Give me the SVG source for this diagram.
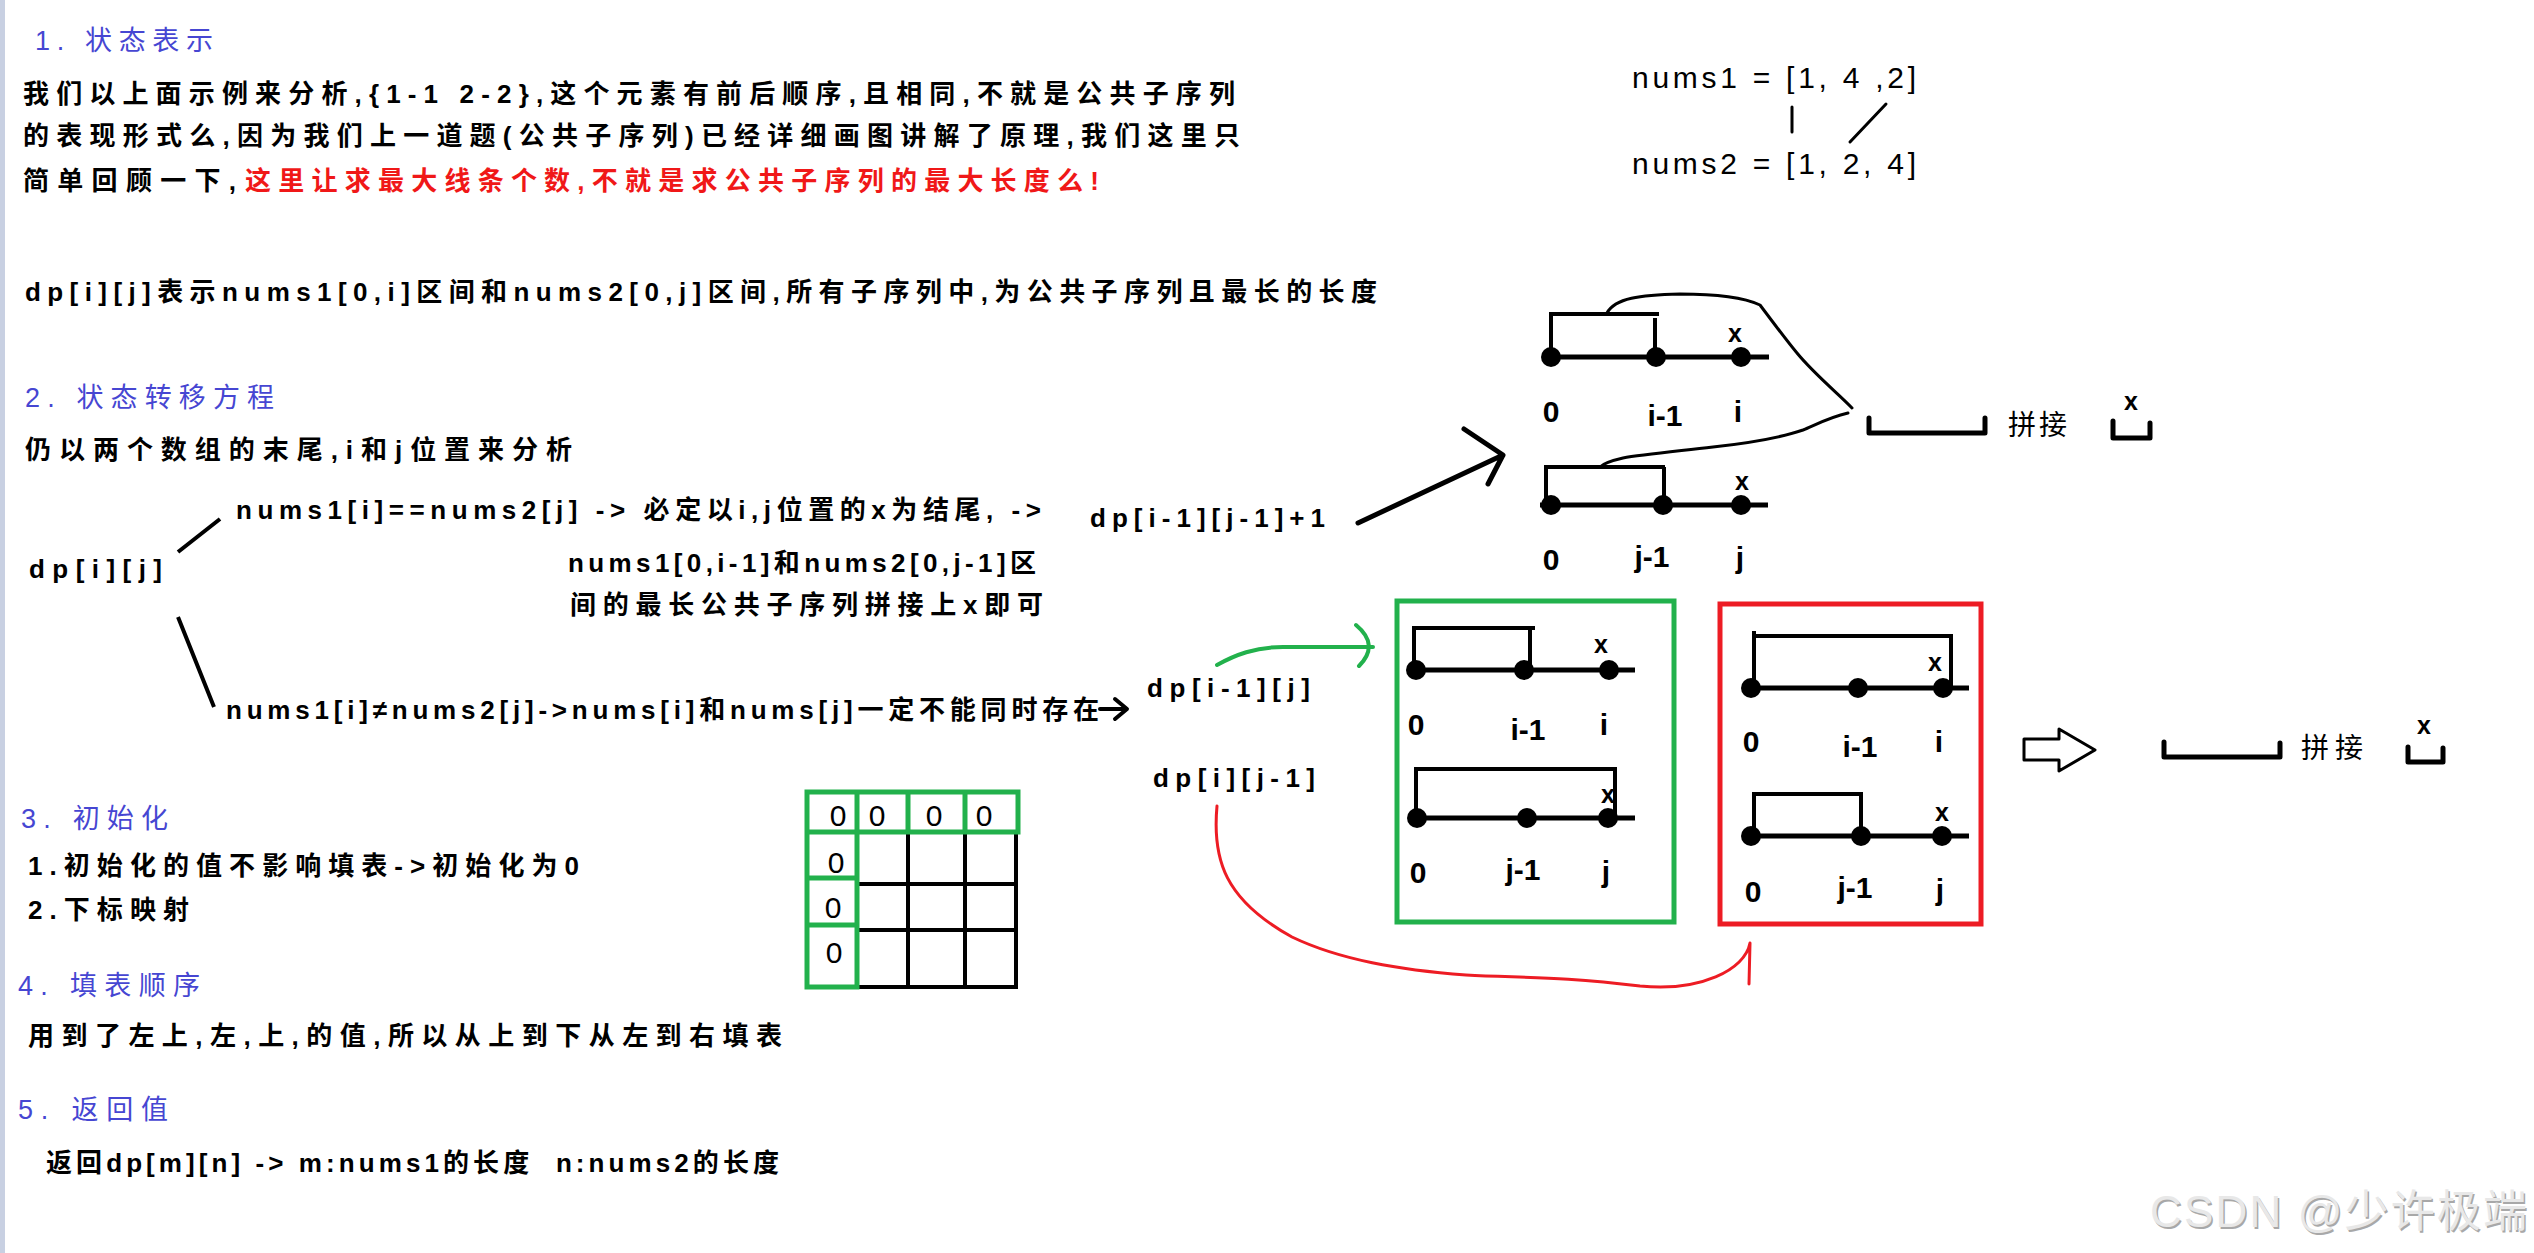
<svg xmlns="http://www.w3.org/2000/svg" width="2534" height="1253" viewBox="0 0 2534 1253">
<style>
.t{font-family:"Liberation Sans","Noto Sans CJK SC",sans-serif;font-size:26px;fill:#000;font-weight:bold}
.h{font-size:27px;fill:#4646d2;font-weight:normal}
.r{fill:#f01818}
.lbl{font-size:30px;text-anchor:middle}
.xm{font-size:25px;text-anchor:middle}
.z{font-size:30px;text-anchor:middle;font-weight:normal}
.nl{stroke:#000;stroke-width:5;fill:none}
.br{stroke:#000;stroke-width:4;fill:none}
.thin{stroke:#000;stroke-width:3;fill:none;stroke-linecap:round;stroke-linejoin:round}
.conn{stroke:#000;stroke-width:5;fill:none;stroke-linecap:round;stroke-linejoin:round}
.gb{stroke:#22b14c;stroke-width:5;fill:none}
.rb{stroke:#ed1c24;stroke-width:5;fill:none}
.blk{stroke:#000;stroke-width:4;fill:none}
.wm{font-family:"Liberation Sans","Noto Sans CJK SC",sans-serif;font-size:44px}
</style>
<rect x="0" y="0" width="2534" height="1253" fill="#fff"/>
<rect x="0" y="0" width="5" height="1253" fill="#c8d0e2"/>

<g id="section1">
<text class="t h" x="35" y="50" textLength="178" lengthAdjust="spacing">1. 状态表示</text>
<text class="t" x="23" y="103" textLength="1212" lengthAdjust="spacing">我们以上面示例来分析,{1-1 2-2},这个元素有前后顺序,且相同,不就是公共子序列</text>
<text class="t" x="23" y="145" textLength="1217" lengthAdjust="spacing">的表现形式么,因为我们上一道题(公共子序列)已经详细画图讲解了原理,我们这里只</text>
<text class="t" x="23" y="190" textLength="213" lengthAdjust="spacing">简单回顾一下,</text>
<text class="t r" x="245" y="190" textLength="854" lengthAdjust="spacing">这里让求最大线条个数,不就是求公共子序列的最大长度么!</text>
<text class="t" x="25" y="301" textLength="1352" lengthAdjust="spacing">dp[i][j]表示nums1[0,i]区间和nums2[0,j]区间,所有子序列中,为公共子序列且最长的长度</text>
</g>

<g id="section2">
<text class="t h" x="25" y="407" textLength="249" lengthAdjust="spacing">2. 状态转移方程</text>
<text class="t" x="25" y="459" textLength="547" lengthAdjust="spacing">仍以两个数组的末尾,i和j位置来分析</text>
</g>

<g id="node-dpij"><text class="t" x="29" y="578" textLength="133" lengthAdjust="spacing">dp[i][j]</text></g>
<g id="node-eq">
<text class="t" x="236" y="519" textLength="805" lengthAdjust="spacing">nums1[i]==nums2[j] -&gt; 必定以i,j位置的x为结尾, -&gt;</text>
<text class="t" x="568" y="572" textLength="468" lengthAdjust="spacing">nums1[0,i-1]和nums2[0,j-1]区</text>
<text class="t" x="570" y="614" textLength="473" lengthAdjust="spacing">间的最长公共子序列拼接上x即可</text>
</g>
<g id="node-neq"><text class="t" x="226" y="719" textLength="873" lengthAdjust="spacing">nums1[i]≠nums2[j]-&gt;nums[i]和nums[j]一定不能同时存在</text></g>
<g id="node-dp11"><text class="t" x="1090" y="527" textLength="235" lengthAdjust="spacing">dp[i-1][j-1]+1</text></g>
<g id="node-dp10"><text class="t" x="1147" y="697" textLength="163" lengthAdjust="spacing">dp[i-1][j]</text></g>
<g id="node-dp01"><text class="t" x="1153" y="787" textLength="162" lengthAdjust="spacing">dp[i][j-1]</text></g>

<g id="section3">
<text class="t h" x="21" y="828" textLength="147" lengthAdjust="spacing">3. 初始化</text>
<text class="t" x="28" y="875" textLength="551" lengthAdjust="spacing">1.初始化的值不影响填表-&gt;初始化为0</text>
<text class="t" x="28" y="919" textLength="161" lengthAdjust="spacing">2.下标映射</text>
<text class="t h" x="18" y="995" textLength="182" lengthAdjust="spacing">4. 填表顺序</text>
<text class="t" x="28" y="1045" textLength="754" lengthAdjust="spacing">用到了左上,左,上,的值,所以从上到下从左到右填表</text>
<text class="t h" x="18" y="1119" textLength="150" lengthAdjust="spacing">5. 返回值</text>
<text class="t" x="46" y="1172" textLength="733" lengthAdjust="spacing" xml:space="preserve">返回dp[m][n] -&gt; m:nums1的长度  n:nums2的长度</text>
</g>

<g id="node-grid">
<path class="blk" d="M857,832 V987 M908,832 V987 M965,832 V987 M1016,832 V987 M857,884 H1018 M857,930 H1018 M855,987 H1018"/>
<path class="gb" d="M807,792 H1018 V832 H807 Z M857,792 V832 M908,792 V832 M965,792 V832 M807,832 V987 H857 V832 M807,878 H857 M807,925 H857"/>
<text class="t z" x="838" y="826">0</text>
<text class="t z" x="877" y="826">0</text>
<text class="t z" x="934" y="826">0</text>
<text class="t z" x="984" y="826">0</text>
<text class="t z" x="836" y="873">0</text>
<text class="t z" x="833" y="918">0</text>
<text class="t z" x="834" y="963">0</text>
</g>

<g id="node-example">
<text class="t" x="1632" y="88" style="font-size:30px;font-weight:normal" textLength="284" lengthAdjust="spacing">nums1 = [1, 4 ,2]</text>
<text class="t" x="1632" y="174" style="font-size:30px;font-weight:normal" textLength="284" lengthAdjust="spacing">nums2 = [1, 2, 4]</text>
<path class="thin" d="M1792,107 V132 M1886,104 L1850,142"/>
</g>

<g id="node-top-i">
<path class="nl" d="M1549,357 H1769"/>
<circle cx="1551" cy="357" r="10"/><circle cx="1656" cy="357" r="10"/><circle cx="1741" cy="357" r="10"/>
<path class="br" d="M1551,357 V314 H1659 M1655,318 V357"/>
<text class="t xm" x="1735" y="342">x</text>
<text class="t lbl" x="1551" y="422">0</text>
<text class="t lbl" x="1665" y="426">i-1</text>
<text class="t lbl" x="1738" y="422">i</text>
</g>
<g id="node-top-j">
<path class="nl" d="M1540,505 H1768"/>
<circle cx="1551" cy="505" r="10"/><circle cx="1663" cy="505" r="10"/><circle cx="1741" cy="505" r="10"/>
<path class="br" d="M1546,505 V467 H1665 M1664,467 V505"/>
<text class="t xm" x="1742" y="490">x</text>
<text class="t lbl" x="1551" y="570">0</text>
<text class="t lbl" x="1652" y="567">j-1</text>
<text class="t lbl" x="1740" y="568">j</text>
</g>
<g id="node-concat-top">
<path class="conn" d="M1869,418 V433 H1985 V418"/>
<text class="t" x="2008" y="435" style="font-size:28px;font-weight:normal" textLength="59" lengthAdjust="spacing">拼接</text>
<text class="t xm" x="2131" y="410">x</text>
<path class="conn" d="M2113,421 V438 H2150 V423"/>
</g>

<g id="node-green">
<rect class="gb" x="1397" y="601" width="277" height="321"/>
<path class="nl" d="M1416,670 H1635"/>
<circle cx="1416" cy="670" r="10"/><circle cx="1524" cy="670" r="10"/><circle cx="1609" cy="670" r="10"/>
<path class="br" d="M1414,670 V628 H1535 M1530,628 V670"/>
<text class="t xm" x="1601" y="653">x</text>
<text class="t lbl" x="1416" y="735">0</text>
<text class="t lbl" x="1528" y="740">i-1</text>
<text class="t lbl" x="1604" y="735">i</text>
<path class="nl" d="M1416,818 H1635"/>
<circle cx="1417" cy="818" r="10"/><circle cx="1527" cy="818" r="10"/><circle cx="1608" cy="818" r="10"/>
<path class="br" d="M1416,818 V769 H1615 V818"/>
<text class="t xm" x="1608" y="803">x</text>
<text class="t lbl" x="1418" y="883">0</text>
<text class="t lbl" x="1523" y="880">j-1</text>
<text class="t lbl" x="1606" y="882">j</text>
</g>

<g id="node-red">
<rect class="rb" x="1720" y="604" width="261" height="320"/>
<path class="nl" d="M1751,688 H1969"/>
<circle cx="1751" cy="688" r="10"/><circle cx="1858" cy="688" r="10"/><circle cx="1943" cy="688" r="10"/>
<path class="br" d="M1754,688 V631 M1754,636 H1951 V688"/>
<text class="t xm" x="1935" y="671">x</text>
<text class="t lbl" x="1751" y="752">0</text>
<text class="t lbl" x="1860" y="757">i-1</text>
<text class="t lbl" x="1939" y="752">i</text>
<path class="nl" d="M1751,836 H1969"/>
<circle cx="1751" cy="836" r="10"/><circle cx="1861" cy="836" r="10"/><circle cx="1942" cy="836" r="10"/>
<path class="br" d="M1754,836 V794 H1861 V836"/>
<text class="t xm" x="1942" y="821">x</text>
<text class="t lbl" x="1753" y="902">0</text>
<text class="t lbl" x="1855" y="898">j-1</text>
<text class="t lbl" x="1940" y="900">j</text>
</g>

<g id="node-result">
<path d="M2024,739 H2059 V729 L2095,750 L2059,771 V760 H2024 Z" fill="#fff" stroke="#000" stroke-width="3" stroke-linejoin="round"/>
<path class="conn" d="M2164,742 V757 H2280 V743"/>
<text class="t" x="2301" y="758" style="font-size:28px;font-weight:normal" textLength="62" lengthAdjust="spacing">拼接</text>
<text class="t xm" x="2424" y="734">x</text>
<path class="conn" d="M2408,747 V762 H2443 V748"/>
</g>

<g id="connectors">
<path class="blk" d="M178,552 L220,519 M178,617 L214,707"/>
<path class="blk" d="M1100,709 H1125 M1115,699 L1127,709 L1115,719" stroke-linecap="round" stroke-linejoin="round"/>
<path class="conn" d="M1358,523 L1503,455 M1464,429 L1503,455 L1488,484"/>
<path class="thin" d="M1607,313 C1615,298 1640,295 1680,294 C1720,294 1745,298 1760,305 C1775,325 1790,345 1797,353 C1815,375 1840,395 1852,408"/>
<path class="thin" d="M1848,413 C1830,417 1815,425 1803,430 C1780,438 1740,444 1713,447 C1670,452 1640,455 1623,458 C1610,461 1603,464 1600,467"/>
<path d="M1217,665 C1235,655 1255,647 1283,647 L1373,647 M1356,625 Q1380,645 1359,666" stroke="#22b14c" stroke-width="4" fill="none" stroke-linecap="round"/>
<path d="M1217,806 C1212,860 1225,900 1292,937 C1340,960 1400,970 1466,975 C1520,978 1560,976 1640,986 C1700,992 1745,970 1750,943 L1749,984" stroke="#ed1c24" stroke-width="3" fill="none" stroke-linecap="round" stroke-linejoin="round"/>
</g>

<g id="watermark">
<text class="wm" x="2151.5" y="1228.5" fill="#a8a8a8" textLength="377" lengthAdjust="spacing">CSDN @少许极端</text>
<text class="wm" x="2150" y="1227" fill="#e8e8e8" textLength="377" lengthAdjust="spacing">CSDN @少许极端</text>
</g>
</svg>
